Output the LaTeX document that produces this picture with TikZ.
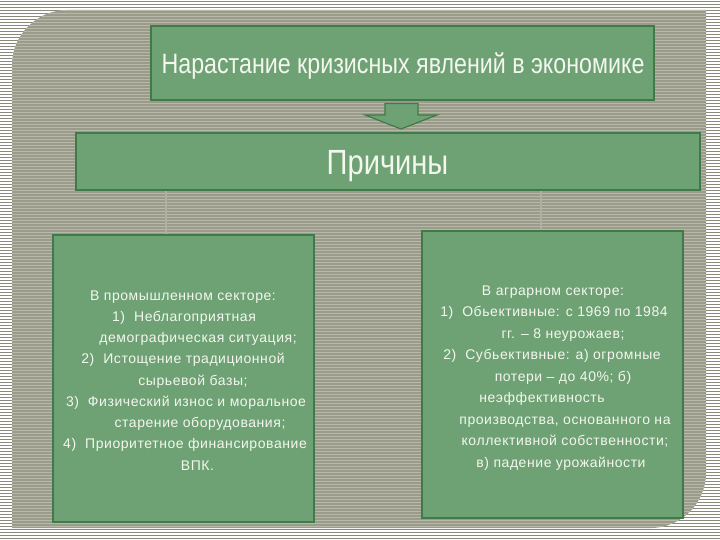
\documentclass[tikz,border=0pt]{standalone}
\usepackage{fontspec}
\newfontfamily\titlefont{Liberation Sans}[FakeStretch=0.83]
\newfontfamily\bodyfont{Liberation Sans}[LetterSpace=4]
\definecolor{boxfill}{HTML}{6EA174}
\definecolor{boxline}{HTML}{3F7A48}
\definecolor{txt}{HTML}{F4F7EE}
\definecolor{outerstripe}{HTML}{8A8A7B}
\definecolor{innerbg}{HTML}{9B9B8C}
\definecolor{innerstripe}{HTML}{B8B8A9}
\definecolor{conn}{HTML}{B0B0A2}
\tikzset{
  greenbox/.style={draw=boxline,line width=1.6pt,fill=boxfill,inner sep=0pt},
  bodyline/.style={anchor=base,text=txt,font=\bodyfont\fontsize{14}{14}\selectfont,inner sep=0pt},
  headline/.style={anchor=base,text=txt,inner sep=0pt},
  connector/.style={draw=conn,line width=2.2pt}
}
\begin{document}
\begin{tikzpicture}[x=1pt,y=-1pt]
\useasboundingbox (0,0) rectangle (720,540);
% outer striped background
\fill[white] (0,0) rectangle (720,540);
\foreach \y in {1.5,4.5,...,540} \draw[outerstripe,line width=1.6pt] (0,\y) -- (720,\y);
% inner rounded panel
\path[fill=innerbg] (12,65) .. controls (12,35) and (37,10) .. (67,10) -- (706,10) -- (706,473) .. controls (706,503) and (681,528) .. (651,528) -- (12,528) -- cycle;
\begin{scope}
\clip (12,65) .. controls (12,35) and (37,10) .. (67,10) -- (706,10) -- (706,473) .. controls (706,503) and (681,528) .. (651,528) -- (12,528) -- cycle;
\foreach \y in {1.5,4.5,...,540} \draw[innerstripe,line width=1.2pt] (0,\y) -- (720,\y);
\end{scope}
% boxes
\node[greenbox,minimum width=503pt,minimum height=74pt] (top) at (402.5,63) {};
\node[headline,font=\titlefont\fontsize{28}{28}\selectfont] (toptext) at (403,73.5)
  {Нарастание кризисных явлений в экономике};
\node[greenbox,minimum width=624pt,minimum height=57pt] (causes) at (388,161.5) {};
\node[headline,font=\titlefont\fontsize{35}{35}\selectfont] (causestext) at (387.5,175)
  {Причины};
\node[greenbox,minimum width=261pt,minimum height=287pt] (left) at (183.5,378.5) {};
\node[greenbox,minimum width=261pt,minimum height=287pt] (right) at (552.5,374.5) {};
% block arrow
\path[fill=boxfill,draw=boxline,line width=1.2pt]
  (385,103.5) -- (418,103.5) -- (418,115) -- (437,115) -- (401,129) -- (365,115)
  -- (385,115) -- cycle;
% connectors
\coordinate (cl) at (166,0);
\coordinate (cr) at (541,0);
\draw[connector] (cl |- causes.south) -- (cl |- left.north);
\draw[connector] (cr |- causes.south) -- (cr |- right.north);
% left text
\node[bodyline] (l1) at (183,300) {В промышленном секторе:};
\node[bodyline] (l2) at (184,321.25) {1)\hspace{9pt}Неблагоприятная};
\node[bodyline] (l3) at (198,342.5) {демографическая ситуация;};
\node[bodyline] (l4) at (183,363.75) {2)\hspace{9pt}Истощение традиционной};
\node[bodyline] (l5) at (193,385) {сырьевой базы;};
\node[bodyline] (l6) at (186,406.25) {3)\hspace{9pt}Физический износ и моральное};
\node[bodyline] (l7) at (200,427.5) {старение оборудования;};
\node[bodyline] (l8) at (185,448.75) {4)\hspace{9pt}Приоритетное финансирование};
\node[bodyline] (l9) at (197.5,470) {ВПК.};
% right text
\node[bodyline] (r1) at (553,295) {В аграрном секторе:};
\node[bodyline] (r2) at (554,316.5) {1)\hspace{9pt}Обьективные: с 1969 по 1984};
\node[bodyline] (r3) at (563,338) {гг. – 8 неурожаев;};
\node[bodyline] (r4) at (552,359.5) {2)\hspace{9pt}Субьективные: а) огромные};
\node[bodyline] (r5) at (563,381) {потери – до 40\%; б)};
\node[bodyline] (r6) at (542,402.5) {неэффективность};
\node[bodyline] (r7) at (565,424) {производства, основанного на};
\node[bodyline] (r8) at (565,445.5) {коллективной собственности;};
\node[bodyline] (r9) at (561,467) {в) падение урожайности};
\end{tikzpicture}
\end{document}
